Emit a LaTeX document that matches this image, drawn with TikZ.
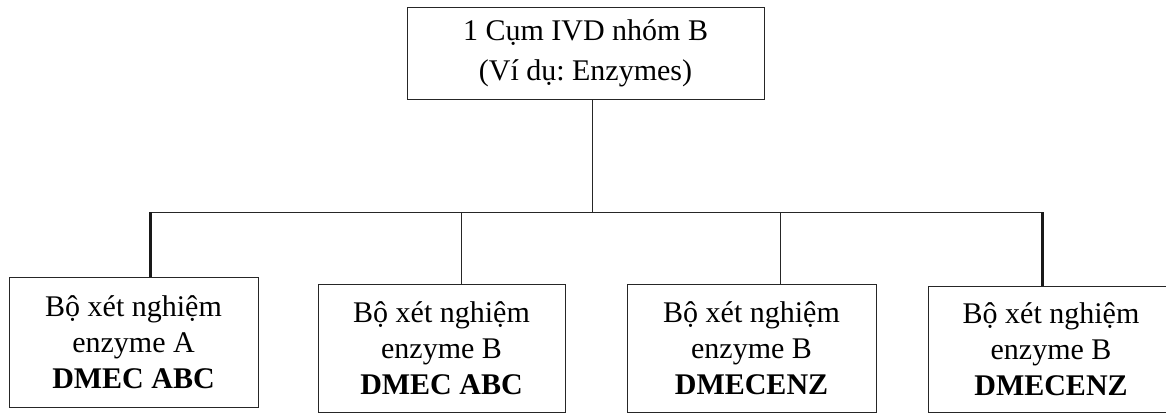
\documentclass[tikz,border=0pt]{standalone}
\usepackage{fontspec}
\setmainfont{Liberation Serif}
\frenchspacing
\begin{document}
\begin{tikzpicture}[x=1pt,y=-1pt,
  box/.style={draw=black!85, line width=1pt, inner sep=0pt, align=center,
              font=\fontsize{30}{36}\selectfont},
  link/.style={draw=black!85, line width=0.9pt},
  thicklink/.style={draw=black!90, line width=3pt}]
\useasboundingbox[fill=white] (0,0) rectangle (1166,413);

% parent box
\node[box, minimum width=357pt, minimum height=92pt,
      font=\fontsize{30}{40}\selectfont] (top) at (585.5,53)
  {1 Cụm IVD nhóm B\\(Ví dụ: Enzymes)};

% child boxes
\node[box, minimum width=249pt, minimum height=130pt] (b1) at (133.5,342)
  {Bộ xét nghiệm\\enzyme A\\\textbf{DMEC ABC}};
\node[box, minimum width=247pt, minimum height=128pt] (b2) at (441.5,348)
  {Bộ xét nghiệm\\enzyme B\\\textbf{DMEC ABC}};
\node[box, minimum width=249pt, minimum height=128pt] (b3) at (751.5,348)
  {Bộ xét nghiệm\\enzyme B\\\textbf{DMECENZ}};
\node[box, minimum width=246pt, minimum height=126pt] (b4) at (1051,349)
  {Bộ xét nghiệm\\enzyme B\\\textbf{DMECENZ}};

% junctions on the bus line
\coordinate (hub) at (592,212);
\coordinate (j1) at (150,212);
\coordinate (j2) at (461,212);
\coordinate (j3) at (780,212);
\coordinate (j4) at (1042,212);

% connectors
\draw[link] (top.south -| hub) -- (hub);
\draw[link] (j1) -- (j4);
\draw[thicklink] (j1) -- (j1 |- b1.north);
\draw[link] (j2) -- (j2 |- b2.north);
\draw[link] (j3) -- (j3 |- b3.north);
\draw[thicklink] (j4) -- (j4 |- b4.north);
\end{tikzpicture}
\end{document}
